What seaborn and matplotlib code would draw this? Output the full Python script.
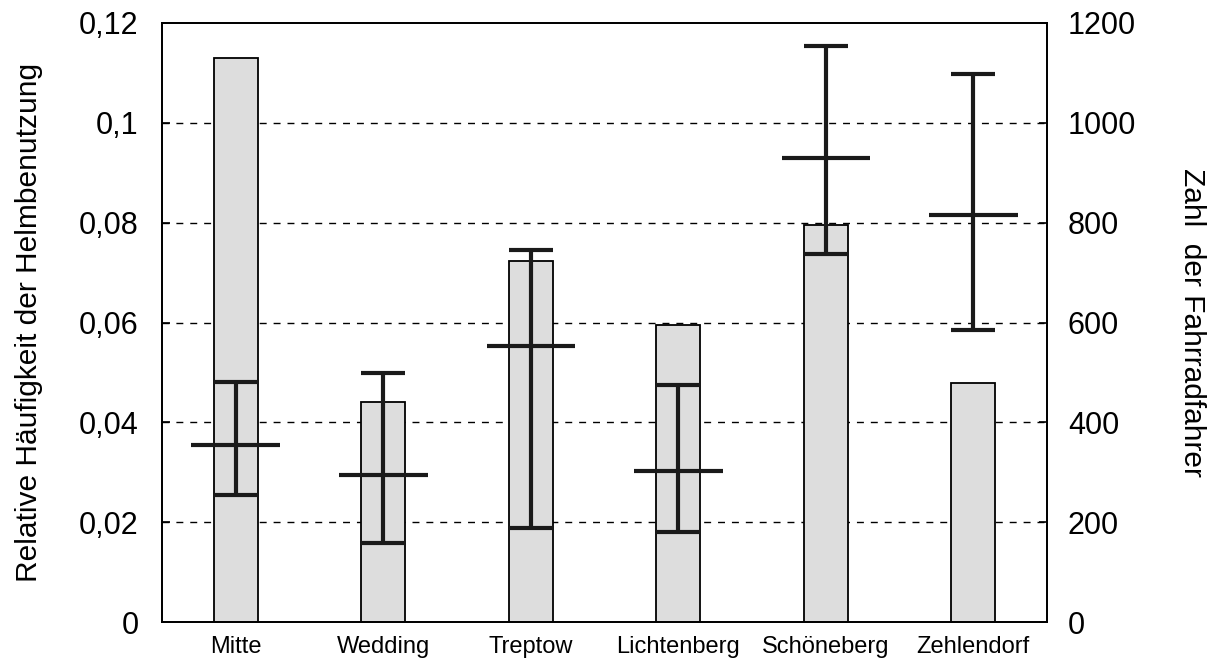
import matplotlib
matplotlib.use("Agg")
import matplotlib.pyplot as plt
import seaborn as sns
import numpy as np
import pandas as pd

districts = ["Mitte", "Wedding", "Treptow", "Lichtenberg", "Schöneberg", "Zehlendorf"]
cyclists = [1129, 441, 723, 595, 796, 479]
helmet_mean = [0.0355, 0.0295, 0.0553, 0.0302, 0.0930, 0.0816]
helmet_low = [0.0255, 0.0159, 0.0188, 0.0181, 0.0738, 0.0585]
helmet_high = [0.0480, 0.0499, 0.0746, 0.0474, 0.1154, 0.1098]
left_ticks = [0, 0.02, 0.04, 0.06, 0.08, 0.1, 0.12]
left_labels = ["0", "0,02", "0,04", "0,06", "0,08", "0,1", "0,12"]
right_ticks = [0, 200, 400, 600, 800, 1000, 1200]

sns.set_theme(style="white")
plt.rcParams["font.family"] = ["Liberation Sans", "DejaVu Sans"]

fig = plt.figure(figsize=(12.21, 6.62), dpi=100)
ax = fig.add_axes([162/1221, 1-622/662, (1047-162)/1221, (622-23)/662])

df = pd.DataFrame({"district": districts, "count": cyclists})
sns.barplot(data=df, x="district", y="count", ax=ax, color="#dddddd",
            edgecolor="black", linewidth=1.3, width=0.3, saturation=1, zorder=3)
ax.set_ylim(0, 1200)
ax.set_xlim(-0.5, 5.5)
ax.set_xlabel("")
for t in right_ticks[1:-1]:
    ax.axhline(t, color="black", linestyle=(0, (5, 5)), linewidth=1.0, zorder=1)

ax2 = ax.twinx()
ax2.set_ylim(0, 0.12)
ax2.set_xlim(-0.5, 5.5)
xs = np.arange(len(districts))
ax2.vlines(xs, helmet_low, helmet_high, color="#1a1a1a", linewidth=3)
ax2.hlines(helmet_low, xs - 0.15, xs + 0.15, color="#1a1a1a", linewidth=3)
ax2.hlines(helmet_high, xs - 0.15, xs + 0.15, color="#1a1a1a", linewidth=3)
ax2.hlines(helmet_mean, xs - 0.3, xs + 0.3, color="#1a1a1a", linewidth=3)

# right axis: counts (bars)
ax.set_yticks(right_ticks)
ax.yaxis.tick_right()
ax.yaxis.set_label_position("right")
ax.set_ylabel("Zahl  der Fahrradfahrer", fontsize=21.5, rotation=-90, labelpad=50, color="black")
ax.tick_params(axis="y", which="both", left=False, right=True, labelleft=False, labelright=True,
               labelsize=22, length=6, width=1.2, direction="in", pad=15, colors="black")
ax.tick_params(axis="x", labelsize=17, length=0, pad=10, colors="black")

# left axis: relative frequency (error bars)
ax2.yaxis.tick_left()
ax2.yaxis.set_label_position("left")
ax2.set_yticks(left_ticks)
ax2.set_yticklabels(left_labels)
ax2.tick_params(axis="y", which="both", left=True, right=False, labelleft=True, labelright=False,
                labelsize=22, length=6, width=1.2, direction="in", pad=17, colors="black")
ax2.set_ylabel("Relative Häufigkeit der Helmbenutzung", fontsize=21.5, labelpad=26, color="black")

for a in (ax, ax2):
    for s in a.spines.values():
        s.set_color("black")
        s.set_linewidth(1.3)

fig.savefig("out.png", dpi=100)
